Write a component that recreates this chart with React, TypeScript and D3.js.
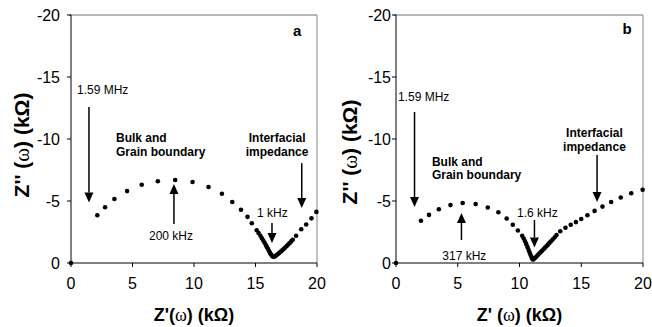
import React from "react";
import * as d3 from "d3";

const xTicks = [0, 5, 10, 15, 20];
const yTicks = [0, -5, -10, -15, -20];
const xTickLabels = ["0", "5", "10", "15", "20"];
const yTickLabels = ["0", "-5", "-10", "-15", "-20"];

// Panel a data: Z' (kΩ), Z'' (kΩ)
const zReA = [0, 2.14, 2.77, 3.53, 4.56, 5.75, 7.06, 8.47, 9.88, 11.18, 12.27, 13.11, 13.82, 14.35, 14.7, 15.1,
  15.25, 15.4, 15.52, 15.63, 15.74, 15.84, 15.93, 16.02, 16.1, 16.18, 16.25, 16.32, 16.4, 16.5, 16.6, 16.7,
  16.82, 16.94, 17.06, 17.18, 17.3, 17.42, 17.54, 17.66, 17.78, 17.9, 18.03, 18.3, 18.72, 19.12, 19.55, 19.95];
const zImA = [0, -3.85, -4.49, -5.16, -5.8, -6.31, -6.59, -6.69, -6.53, -6.13, -5.59, -4.92, -4.3, -3.72, -3.2, -2.64,
  -2.42, -2.2, -2.0, -1.82, -1.63, -1.45, -1.28, -1.12, -0.97, -0.83, -0.7, -0.6, -0.52, -0.5, -0.55, -0.63,
  -0.72, -0.82, -0.92, -1.03, -1.14, -1.25, -1.37, -1.49, -1.61, -1.74, -1.88, -2.2, -2.72, -3.1, -3.6, -4.12];

// Panel b data
const zReB = [0, 2.02, 2.67, 3.47, 4.41, 5.4, 6.45, 7.43, 8.29, 8.96, 9.46, 9.87, 10.22,
  10.34, 10.45, 10.55, 10.65, 10.74, 10.82, 10.89, 10.96, 11.02, 11.08, 11.15, 11.25, 11.36, 11.47, 11.58,
  11.7, 11.82, 11.94, 12.06, 12.18, 12.3, 12.42, 12.55, 12.7, 12.85, 13.0, 13.3, 13.72, 14.15, 14.57, 15.0,
  15.5, 16.08, 16.72, 17.42, 18.2, 19.05, 19.97];
const zImB = [0, -3.41, -3.88, -4.34, -4.67, -4.84, -4.75, -4.47, -4.09, -3.59, -3.08, -2.62, -2.2,
  -1.98, -1.75, -1.52, -1.28, -1.05, -0.85, -0.66, -0.5, -0.37, -0.28, -0.3, -0.4, -0.5, -0.62, -0.74,
  -0.86, -0.98, -1.1, -1.22, -1.35, -1.48, -1.62, -1.76, -1.92, -2.08, -2.25, -2.56, -2.84, -3.08, -3.3, -3.55,
  -3.85, -4.2, -4.55, -4.92, -5.28, -5.62, -5.91];

// Annotations (data units)
const arrowsA = [
  { x: 1.46, from: -12.58, to: -4.88 },
  { x: 8.37, from: -3.15, to: -6.37 },
  { x: 16.34, from: -3.23, to: -1.61 },
  { x: 18.76, from: -8.06, to: -4.44 },
];
const labelsA = [
  { text: "1.59 MHz", x: 0.49, y: -13.6, anchor: "start", bold: false },
  { text: "Bulk and", x: 3.66, y: -9.76, anchor: "start", bold: true },
  { text: "Grain boundary", x: 3.66, y: -8.63, anchor: "start", bold: true },
  { text: "Interfacial", x: 16.76, y: -9.76, anchor: "middle", bold: true },
  { text: "impedance", x: 16.76, y: -8.63, anchor: "middle", bold: true },
  { text: "200 kHz", x: 6.34, y: -1.85, anchor: "start", bold: false },
  { text: "1 kHz", x: 15.12, y: -3.67, anchor: "start", bold: false },
];
const arrowsB = [
  { x: 1.5, from: -12.18, to: -4.52 },
  { x: 5.3, from: -1.85, to: -4.03 },
  { x: 11.21, from: -3.47, to: -1.25 },
  { x: 16.28, from: -8.71, to: -4.92 },
];
const labelsB = [
  { text: "1.59 MHz", x: 0.16, y: -13.06, anchor: "start", bold: false },
  { text: "Bulk and", x: 2.91, y: -7.82, anchor: "start", bold: true },
  { text: "Grain boundary", x: 2.91, y: -6.77, anchor: "start", bold: true },
  { text: "Interfacial", x: 16.07, y: -10.16, anchor: "middle", bold: true },
  { text: "impedance", x: 16.07, y: -9.03, anchor: "middle", bold: true },
  { text: "317 kHz", x: 3.75, y: -0.24, anchor: "start", bold: false },
  { text: "1.6 kHz", x: 9.8, y: -3.71, anchor: "start", bold: false },
];

const FONT = "'Liberation Sans', Arial, sans-serif";

type Lab = { text: string; x: number; y: number; anchor: string; bold: boolean };
type Arr = { x: number; from: number; to: number };

function Panel(props: {
  x0: number; x1: number; xs: number[]; ys: number[]; arrows: Arr[]; labels: Lab[];
  letter: string; letterX: number; letterY: number; yTitleX: number; yTitleY: number;
  xTitlePrime: string; tickGap: number;
}) {
  const x = d3.scaleLinear().domain([0, 20]).range([props.x0, props.x1]);
  const y = d3.scaleLinear().domain([0, -20]).range([263, 15]);
  const [ya, yb] = y.range();
  const xc = (props.x0 + props.x1) / 2;
  return (
    <g fontFamily={FONT}>
      {/* frame */}
      <line x1={x(0) - 2} x2={x(20)} y1={y(-20)} y2={y(-20)} stroke="#a0a0a0" strokeWidth={1.3} />
      <line x1={x(20)} x2={x(20)} y1={y(-20)} y2={y(0)} stroke="#a0a0a0" strokeWidth={1.3} />
      <line x1={x(0)} x2={x(0)} y1={yb} y2={ya} stroke="#000" strokeWidth={1} />
      <line x1={x(0)} x2={x(20)} y1={y(0)} y2={y(0)} stroke="#000" strokeWidth={1} />
      {yTicks.map((t, i) => (
        <g key={"y" + i}>
          <line x1={x(0) - 4} x2={x(0)} y1={y(t)} y2={y(t)} stroke="#000" />
          <text x={x(0) - props.tickGap} y={y(t) + 5.5} textAnchor="end" fontSize={16}>{yTickLabels[i]}</text>
        </g>
      ))}
      {xTicks.map((t, i) => (
        <g key={"x" + i}>
          <line x1={x(t)} x2={x(t)} y1={y(0)} y2={y(0) + 4} stroke="#000" />
          <text x={x(t)} y={289} textAnchor="middle" fontSize={16}>{xTickLabels[i]}</text>
        </g>
      ))}
      {/* titles */}
      <text x={xc} y={321} textAnchor="middle" fontSize={18} fontWeight="bold">
        {"Z" + props.xTitlePrime}<tspan fontWeight="normal" fontFamily="'Liberation Serif', serif">ω</tspan>{") (kΩ)"}
      </text>
      <text transform={`translate(${props.yTitleX},${props.yTitleY}) rotate(-90)`} textAnchor="middle" fontSize={21} fontWeight="bold">
        {"Z'' ("}<tspan fontWeight="normal" fontFamily="'Liberation Serif', serif">ω</tspan>{") (kΩ)"}
      </text>
      <text x={x(props.letterX)} y={y(props.letterY)} fontSize={15} fontWeight="bold">{props.letter}</text>
      {/* data */}
      {props.xs.map((v, i) => (
        <circle key={"p" + i} cx={x(v)} cy={y(props.ys[i])} r={2.3} fill="#000" />
      ))}
      {/* annotations */}
      {props.labels.map((l, i) => (
        <text key={"l" + i} x={x(l.x)} y={y(l.y)} textAnchor={l.anchor as any} fontSize={12}
          fontWeight={l.bold ? "bold" : "normal"}>{l.text}</text>
      ))}
      {props.arrows.map((a, i) => {
        const px = x(a.x);
        const pf = y(a.from);
        const pt = y(a.to);
        const dir = pt > pf ? 1 : -1;
        const hl = 10;
        const hw = 4.5;
        return (
          <g key={"a" + i}>
            <line x1={px} x2={px} y1={pf} y2={pt - dir * hl} stroke="#000" strokeWidth={1.5} />
            <polygon points={`${px - hw},${pt - dir * hl} ${px + hw},${pt - dir * hl} ${px},${pt}`} fill="#000" />
          </g>
        );
      })}
    </g>
  );
}

export default function App() {
  return (
    <svg width={652} height={327} style={{ position: "absolute", left: 0, top: 0, background: "#fff" }}>
      <rect width={652} height={327} fill="#fff" />
      <Panel x0={71} x1={317} xs={zReA} ys={zImA} arrows={arrowsA} labels={labelsA}
        letter="a" letterX={18.05} letterY={-18.3} yTitleX={29} yTitleY={145} xTitlePrime="'(" tickGap={11} />
      <Panel x0={396} x1={643} xs={zReB} ys={zImB} arrows={arrowsB} labels={labelsB}
        letter="b" letterX={18.35} letterY={-18.5} yTitleX={357} yTitleY={152} xTitlePrime="' (" tickGap={5} />
    </svg>
  );
}
